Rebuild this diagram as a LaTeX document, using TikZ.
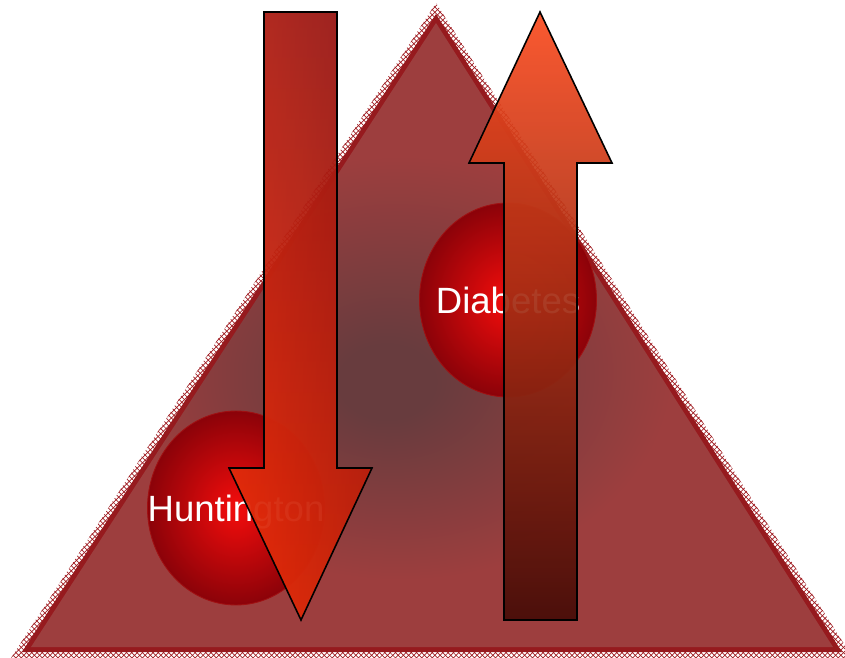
\documentclass[tikz,border=0pt]{standalone}
\usepackage{fontspec}
\setmainfont{Liberation Sans}
\usetikzlibrary{patterns,shapes.geometric}

\definecolor{tricore}{RGB}{104,60,62}
\definecolor{tririm}{RGB}{157,62,62}
\definecolor{triband}{RGB}{150,26,30}
\definecolor{hatchred}{RGB}{160,30,35}
\definecolor{spherecore}{RGB}{236,12,12}
\definecolor{sphererim}{RGB}{118,0,8}
\definecolor{spherering}{RGB}{160,16,18}
\definecolor{downtop}{RGB}{150,26,28}
\definecolor{downbot}{RGB}{238,46,8}
\definecolor{downleft}{RGB}{240,48,10}
\definecolor{downright}{RGB}{130,14,12}
\definecolor{uptop}{RGB}{250,76,32}
\definecolor{upmid}{RGB}{214,40,8}
\definecolor{upbot}{RGB}{70,12,8}

\pgfdeclareradialshading{trishade}{\pgfpoint{-3bp}{-4bp}}{%
  color(0bp)=(tricore); color(3bp)=(tricore); color(17bp)=(tririm); color(50bp)=(tririm)}
\pgfdeclareradialshading{sphereshade}{\pgfpoint{0bp}{0bp}}{%
  color(0bp)=(spherecore); color(2bp)=(spherecore); color(30bp)=(sphererim); color(50bp)=(sphererim)}

\newcommand{\downarrowshape}{(264,12) -- (337,12) -- (337,468) -- (372,468) -- (301,620)
  -- (229,468) -- (264,468) -- cycle}
\newcommand{\uparrowshape}{(540,12) -- (612,163) -- (577,163) -- (577,620) -- (504,620)
  -- (504,163) -- (469,163) -- cycle}

\begin{document}
\begin{tikzpicture}[x=0.02cm, y=-0.02cm,
    sphere/.style={ellipse, inner sep=0pt, minimum width=3.54cm, minimum height=3.88cm,
      shade, shading=sphereshade, draw=spherering, line width=0.5pt},
    spherelabel/.style={text=white, inner sep=0pt, text height=14.9pt, text depth=0pt,
      font=\fontsize{20.8}{25}\selectfont},
    bigarrow/.style={draw=black, line width=0.9pt, line join=miter, fill opacity=0.93}]
    \useasboundingbox (0,0) rectangle (845,658);

    % Triangolo
    \fill[pattern=crosshatch, pattern color=hatchred] (436,3) -- (853,658) -- (11,658) -- cycle;
    \fill[triband] (436,14) -- (842,652) -- (22,652) -- cycle;
    \shade[shading=trishade] (436,23) -- (833,647) -- (31,647) -- cycle;

    % Sfere
    \node[sphere] (hunt) at (236,508) {};
    \node[sphere] (diab) at (508,300) {};
    \node[spherelabel] (huntlabel) at (hunt.center) {Huntington};
    \node[spherelabel] (diablabel) at (diab.center) {Diabetes};

    % Freccia in basso
    \shade[fill opacity=0.93, top color=downtop, bottom color=downbot] \downarrowshape;
    \shade[bigarrow, fill opacity=0.35, left color=downleft, right color=downright] \downarrowshape;

    % Freccia in alto
    \shade[bigarrow, top color=uptop, middle color=upmid, bottom color=upbot] \uparrowshape;
\end{tikzpicture}
\end{document}
